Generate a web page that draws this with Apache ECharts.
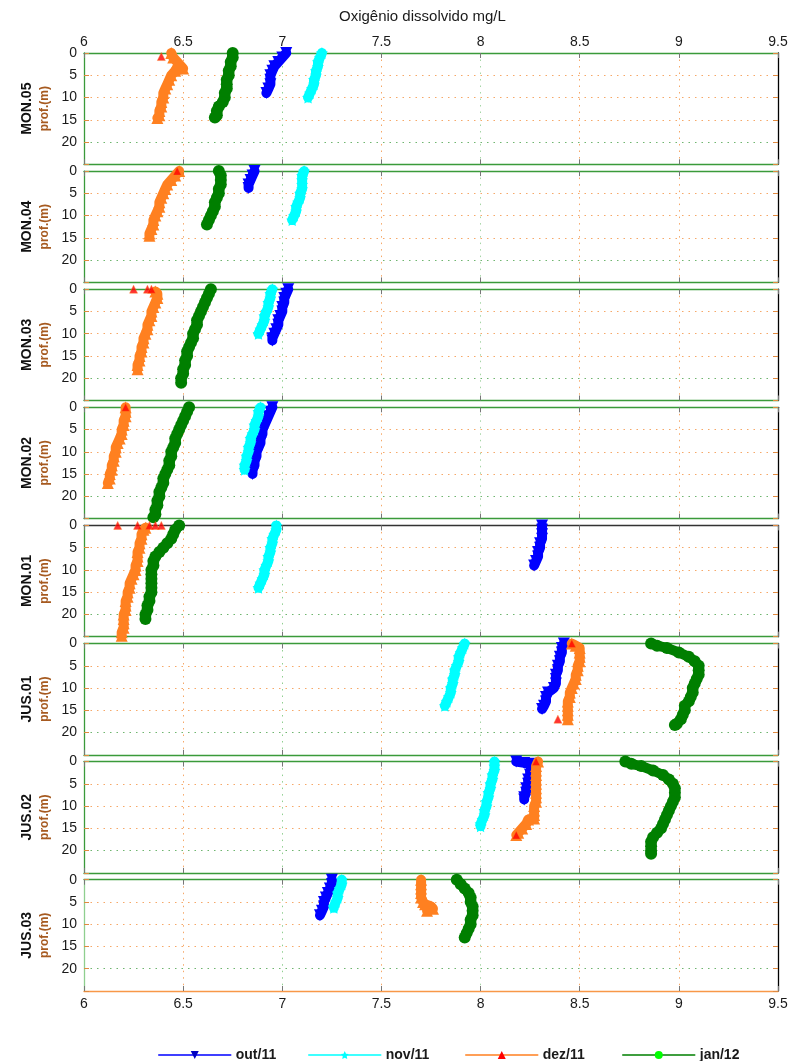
<!DOCTYPE html>
<html><head><meta charset="utf-8">
<script src="https://cdn.jsdelivr.net/npm/echarts@6/dist/echarts.min.js"></script>
<style>html,body{margin:0;padding:0;background:#fff}#c{width:804px;height:1061px}</style>
</head><body><div id="c"></div>
<script>
// ---------- DATA ----------
const panels = ['MON.05','MON.04','MON.03','MON.02','MON.01','JUS.01','JUS.02','JUS.03'];
const xTicks = [6, 6.5, 7, 7.5, 8, 8.5, 9, 9.5];
const depthTicks = [0, 5, 10, 15, 20];
const months = ['out/11', 'nov/11', 'dez/11', 'jan/12'];

// each entry: [oxygen mg/L, depth m], one list per panel (same order as panels)
const out11 = [
  [[7.02,0],[7.00,1],[6.98,2],[6.96,3],[6.95,4],[6.94,5],[6.94,6],[6.94,7],[6.93,8],[6.92,9]],
  [[6.86,0],[6.85,1],[6.84,2],[6.83,3],[6.83,3.8]],
  [[7.03,0],[7.02,1],[7.01,2],[7.01,3],[7.00,4],[7.00,5],[6.99,6],[6.98,7],[6.98,8],[6.97,9],[6.96,10],[6.95,11],[6.95,11.5]],
  [[6.95,0],[6.94,1],[6.93,2],[6.92,3],[6.91,4],[6.90,5],[6.90,6],[6.89,7],[6.89,8],[6.88,9],[6.87,10],[6.87,11],[6.86,12],[6.86,13],[6.85,14],[6.85,15]],
  [[8.31,0],[8.31,1],[8.31,2],[8.31,3],[8.30,4],[8.30,5],[8.29,6],[8.29,7],[8.28,8],[8.27,9]],
  [[8.42,0],[8.41,1],[8.41,2],[8.40,3],[8.40,4],[8.39,5],[8.39,6],[8.38,7],[8.38,8],[8.38,9],[8.37,10],[8.34,11],[8.33,12],[8.33,13],[8.32,14],[8.31,14.7]],
  [[8.18,0],[8.22,0.3],[8.26,0.5],[8.26,1],[8.25,2],[8.25,3],[8.24,4],[8.24,5],[8.23,6],[8.23,7],[8.22,8],[8.22,8.5]],
  [[7.25,0],[7.25,1],[7.24,2],[7.23,3],[7.22,4],[7.21,5],[7.21,6],[7.20,7],[7.19,8]]
];
const nov11 = [
  [[7.20,0],[7.19,1],[7.18,2],[7.18,3],[7.17,4],[7.17,5],[7.16,6],[7.16,7],[7.15,8],[7.14,9],[7.13,10]],
  [[7.11,0],[7.10,1],[7.10,2],[7.10,3],[7.10,4],[7.09,5],[7.09,6],[7.08,7],[7.07,8],[7.07,9],[7.06,10],[7.05,11]],
  [[6.95,0],[6.94,1],[6.94,2],[6.93,3],[6.93,4],[6.92,5],[6.91,6],[6.91,7],[6.90,8],[6.89,9],[6.88,10]],
  [[6.89,0],[6.88,1],[6.88,2],[6.87,3],[6.86,4],[6.86,5],[6.85,6],[6.84,7],[6.84,8],[6.83,9],[6.83,10],[6.82,11],[6.82,12],[6.81,13],[6.81,14]],
  [[6.97,0],[6.97,1],[6.96,2],[6.95,3],[6.95,4],[6.94,5],[6.94,6],[6.93,7],[6.93,8],[6.92,9],[6.91,10],[6.91,11],[6.90,12],[6.89,13],[6.88,14]],
  [[7.92,0],[7.91,1],[7.90,2],[7.89,3],[7.89,4],[7.88,5],[7.87,6],[7.87,7],[7.86,8],[7.86,9],[7.85,10],[7.85,11],[7.84,12],[7.83,13],[7.82,14]],
  [[8.07,0],[8.07,1],[8.07,2],[8.06,3],[8.06,4],[8.05,5],[8.05,6],[8.04,7],[8.04,8],[8.03,9],[8.03,10],[8.02,11],[8.02,12],[8.01,13],[8.00,14],[8.00,14.5]],
  [[7.30,0],[7.30,1],[7.29,2],[7.28,3],[7.28,4],[7.27,5],[7.26,6],[7.26,6.3]]
];
const dez11 = [
  [[6.44,0],[6.45,1],[6.47,2],[6.49,3],[6.50,3.5],[6.46,4],[6.44,5],[6.43,6],[6.42,7],[6.41,8],[6.40,9],[6.40,10],[6.39,11],[6.39,12],[6.38,13],[6.38,14],[6.37,14.6]],
  [[6.48,0],[6.46,1],[6.44,2],[6.42,3],[6.41,4],[6.40,5],[6.39,6],[6.38,7],[6.38,8],[6.37,9],[6.36,10],[6.35,11],[6.35,12],[6.34,13],[6.33,14],[6.33,14.5]],
  [[6.36,0.5],[6.37,1],[6.37,2],[6.36,3],[6.35,4],[6.34,5],[6.34,6],[6.33,7],[6.32,8],[6.32,9],[6.31,10],[6.30,11],[6.30,12],[6.29,13],[6.29,14],[6.28,15],[6.28,16],[6.27,17],[6.27,18]],
  [[6.21,0],[6.21,1],[6.21,2],[6.20,3],[6.20,4],[6.19,5],[6.19,6],[6.18,7],[6.17,8],[6.16,9],[6.16,10],[6.15,11],[6.15,12],[6.14,13],[6.14,14],[6.13,15],[6.13,16],[6.12,17]],
  [[6.31,0.5],[6.30,1],[6.29,2],[6.29,3],[6.28,4],[6.28,5],[6.27,6],[6.27,7],[6.27,8],[6.26,9],[6.26,10],[6.25,11],[6.24,12],[6.23,13],[6.23,14],[6.22,15],[6.22,16],[6.21,17],[6.21,18],[6.21,19],[6.20,20],[6.20,21],[6.20,22],[6.20,23],[6.19,24],[6.19,24.8]],
  [[8.46,0],[8.48,0.5],[8.50,1],[8.50,2],[8.50,3],[8.50,4],[8.49,5],[8.49,6],[8.48,7],[8.48,8],[8.47,9],[8.46,10],[8.45,11],[8.45,12],[8.44,13],[8.44,14],[8.44,15],[8.44,16],[8.44,17]],
  [[8.29,0],[8.28,1],[8.28,2],[8.28,3],[8.28,4],[8.28,5],[8.28,6],[8.28,7],[8.28,8],[8.28,9],[8.27,10],[8.27,11],[8.27,12],[8.27,12.8],[8.24,13],[8.23,14],[8.21,15],[8.19,16],[8.18,16.5]],
  [[7.70,0],[7.70,1],[7.70,2],[7.70,3],[7.70,4],[7.71,5],[7.72,5.5],[7.75,6],[7.76,6.5],[7.73,7]]
];
// isolated surface readings of dez/11 (red triangles)
const dez11Surface = [
  [[6.39,0.8]],
  [[6.47,0]],
  [[6.25,0],[6.32,0],[6.34,0]],
  [[6.21,0]],
  [[6.17,0],[6.27,0],[6.33,0],[6.36,0],[6.39,0]],
  [[8.46,0],[8.39,17]],
  [[8.28,0],[8.18,16.5]],
  []
];
const jan12 = [
  [[6.75,0],[6.75,1],[6.74,2],[6.74,3],[6.73,4],[6.73,5],[6.72,6],[6.72,7],[6.72,8],[6.71,9],[6.71,10],[6.70,11],[6.68,12],[6.67,13],[6.67,14],[6.66,14.5]],
  [[6.68,0],[6.69,1],[6.69,2],[6.69,3],[6.68,4],[6.68,5],[6.67,6],[6.66,7],[6.66,8],[6.65,9],[6.64,10],[6.63,11],[6.62,12]],
  [[6.64,0],[6.63,1],[6.62,2],[6.61,3],[6.60,4],[6.59,5],[6.58,6],[6.57,7],[6.57,8],[6.56,9],[6.55,10],[6.55,11],[6.54,12],[6.53,13],[6.52,14],[6.52,15],[6.51,16],[6.51,17],[6.50,18],[6.50,19],[6.49,20],[6.49,21]],
  [[6.53,0],[6.52,1],[6.51,2],[6.50,3],[6.49,4],[6.48,5],[6.47,6],[6.46,7],[6.46,8],[6.45,9],[6.44,10],[6.44,11],[6.43,12],[6.43,13],[6.42,14],[6.41,15],[6.40,16],[6.40,17],[6.39,18],[6.38,19],[6.38,20],[6.37,21],[6.37,22],[6.36,23],[6.36,24],[6.35,24.7]],
  [[6.48,0],[6.46,1],[6.45,2],[6.44,3],[6.42,4],[6.40,5],[6.38,6],[6.36,7],[6.35,8],[6.35,9],[6.34,10],[6.34,11],[6.34,12],[6.34,13],[6.34,14],[6.34,15],[6.33,16],[6.33,17],[6.32,18],[6.32,19],[6.31,20],[6.31,21]],
  [[8.86,0],[8.89,0.5],[8.94,1],[9.00,2],[9.05,3],[9.08,4],[9.10,5],[9.10,6],[9.10,7],[9.09,8],[9.08,9],[9.07,10],[9.07,11],[9.06,12],[9.05,13],[9.03,14],[9.03,15],[9.02,16],[9.01,17],[8.99,18],[8.98,18.3]],
  [[8.73,0],[8.76,0.5],[8.81,1],[8.87,2],[8.92,3],[8.95,4],[8.97,5],[8.98,6],[8.98,7],[8.98,8],[8.97,9],[8.96,10],[8.95,11],[8.94,12],[8.93,13],[8.92,14],[8.91,15],[8.89,16],[8.87,17],[8.86,18],[8.86,19],[8.86,20],[8.86,20.7]],
  [[7.88,0],[7.90,1],[7.92,2],[7.94,3],[7.95,4],[7.95,5],[7.96,6],[7.96,7],[7.96,8],[7.95,9],[7.95,10],[7.94,11],[7.93,12],[7.92,13]]
];

// ---------- STYLE / LAYOUT ----------
const monthData = [out11, nov11, dez11, jan12];
const lineColors = ['#0000ff', '#00ffff', '#ff8020', '#007f00'];
const markerColors = ['#0000c0', '#00ffff', '#ff0000', '#00ff00'];
const STAR = 'path://M0,-10L2.9,-4L9.5,-3.1L4.7,1.5L5.9,8.1L0,5L-5.9,8.1L-4.7,1.5L-9.5,-3.1L-2.9,-4Z';
const symbols = ['triangle', STAR, 'triangle', 'circle'];
const symbolRot = [180, 0, 0, 0];
const legendLeft = [153, 303, 460, 617];

const GL = 84, GW = 694, TOP0 = 53, STEP = 118.1, GH = 111.3;
const FONT = '"Liberation Sans", Arial, sans-serif';
const GREEN = '#3a9a3a';
const ORANGE_DOT = '#f6a868';

const grids = [], xAxes = [], yAxes = [], series = [];
panels.forEach((p, i) => {
  grids.push({left: GL, width: GW, top: TOP0 + i * STEP, height: GH, containLabel: false});
  const xCommon = {
    type: 'value', gridIndex: i, min: xTicks[0], max: xTicks[xTicks.length - 1], interval: 0.5,
    axisTick: {show: true, inside: true, length: 5, lineStyle: {color: '#777'}},
  };
  xAxes.push(Object.assign({}, xCommon, {
    position: 'bottom',
    axisLine: {show: true, onZero: false, lineStyle: {color: i === 7 ? '#f89848' : GREEN, width: 1.3}},
    axisLabel: {show: i === 7, fontSize: 14, color: '#1a1a1a', fontFamily: FONT, margin: 6,
      formatter: v => xTicks.includes(v) ? String(v) : ''},
    splitLine: {show: true, lineStyle: {type: [1.5, 5], width: 1,
      color: ['rgba(0,0,0,0)', ORANGE_DOT, '#8fcf8f', ORANGE_DOT, '#a5d5a5', ORANGE_DOT, ORANGE_DOT, 'rgba(0,0,0,0)']}}
  }));
  xAxes.push(Object.assign({}, xCommon, {
    position: 'top',
    axisLine: {show: true, onZero: false, lineStyle: {color: i === 4 ? '#333' : GREEN, width: 1.3}},
    axisLabel: {show: i === 0, fontSize: 14, color: '#1a1a1a', fontFamily: FONT, margin: 4,
      formatter: v => xTicks.includes(v) ? String(v) : ''},
    splitLine: {show: false}
  }));
  const yCommon = {
    type: 'value', gridIndex: i, min: 0, max: 25, interval: 5, inverse: true,
    axisTick: {show: true, inside: true, length: 5, lineStyle: {color: '#e08a40'}},
  };
  yAxes.push(Object.assign({}, yCommon, {
    position: 'left',
    axisLine: {show: true, onZero: false, lineStyle: {color: i === 7 ? '#8fcf8f' : GREEN, width: 1.3}},
    axisLabel: {show: true, fontSize: 14, color: '#1a1a1a', fontFamily: FONT, margin: 7,
      formatter: v => depthTicks.includes(v) ? String(v) : ''},
    splitLine: {show: true, lineStyle: {type: [1.5, 5], width: 1,
      color: ['rgba(0,0,0,0)', ORANGE_DOT, ORANGE_DOT, ORANGE_DOT, '#6fb56f', 'rgba(0,0,0,0)']}},
    name: '{a|' + p + '}\n{b|prof.(m)}',
    nameLocation: 'middle', nameRotate: 90, nameGap: 30,
    nameTextStyle: {
      rich: {
        a: {fontSize: 14, fontWeight: 'bold', color: '#111', fontFamily: FONT, lineHeight: 20},
        b: {fontSize: 12, fontWeight: 'bold', color: '#a65a20', fontFamily: FONT, lineHeight: 15}
      }
    }
  }));
  yAxes.push(Object.assign({}, yCommon, {
    position: 'right',
    axisLine: {show: true, onZero: false, lineStyle: {color: '#000', width: 1.3}},
    axisLabel: {show: false},
    splitLine: {show: false}
  }));

  months.forEach((m, k) => {
    series.push({
      type: 'line', name: m, xAxisIndex: 2 * i, yAxisIndex: 2 * i,
      data: monthData[k][i],
      symbol: symbols[k], symbolRotate: symbolRot[k], symbolSize: 12, showSymbol: true,
      lineStyle: {color: lineColors[k], width: 10, cap: 'round', join: 'round'},
      itemStyle: {color: lineColors[k]},
      z: 2 + k, animation: false, silent: true
    });
  });
  if (dez11Surface[i].length) {
    series.push({
      type: 'scatter', name: 'dez/11 superfície', xAxisIndex: 2 * i, yAxisIndex: 2 * i,
      data: dez11Surface[i], symbol: 'triangle', symbolSize: 8,
      itemStyle: {color: '#ff0000', borderColor: '#ff8020', borderWidth: 0.5},
      z: 10, animation: false, silent: true, clip: false
    });
  }
});

const legends = months.map((m, k) => ({
  data: [{name: m, itemStyle: {color: markerColors[k], borderWidth: 0},
          lineStyle: {color: lineColors[k], width: 1.5}}],
  left: legendLeft[k], top: 1043, itemWidth: 72, itemHeight: 10, itemGap: 0,
  selectedMode: false,
  textStyle: {fontSize: 14, color: '#1a1a1a', fontFamily: FONT, fontWeight: 'bold'}
}));

const chart = echarts.init(document.getElementById('c'), null, {renderer: 'canvas'});
chart.setOption({
  animation: false,
  backgroundColor: '#fff',
  grid: grids, xAxis: xAxes, yAxis: yAxes, series: series, legend: legends,
  graphic: [{
    type: 'text', left: 431 - 92, top: 9,
    style: {text: 'Oxigênio dissolvido mg/L', fontSize: 15, fontFamily: FONT, fill: '#1a1a1a'}
  }]
});
</script>
</body></html>
